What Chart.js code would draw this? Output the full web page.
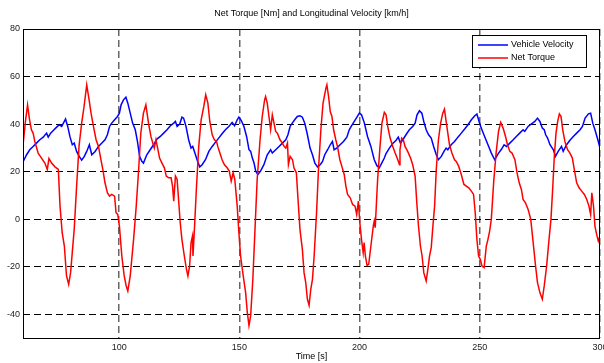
<!DOCTYPE html>
<html>
<head>
<meta charset="utf-8">
<script src="https://cdn.jsdelivr.net/npm/chart.js@4.4.1/dist/chart.umd.min.js"></script>
<style>
  body { margin: 0; background: #fff; }
  canvas { display: block; }
</style>
</head>
<body>
<canvas id="canvas" width="604" height="363"></canvas>
<script>
var chartTitle = 'Net Torque [Nm] and Longitudinal Velocity [km/h]';
var xTitle = 'Time [s]';
var xTickValues = [100, 150, 200, 250, 300];
var yTickValues = [-40, -20, 0, 20, 40, 60, 80];

// Vehicle Velocity [km/h]
var velocityTime = [60.1, 61.5, 62.8, 64.2, 65.6, 67.0, 68.4, 69.8, 70.5, 71.5, 72.6, 74.0, 75.1, 76.1, 76.8, 77.7, 78.6, 79.5, 80.5, 81.3,
    82.3, 83.4, 84.4, 85.5, 86.5, 87.6, 88.6, 90.0, 91.4, 92.8, 94.1, 95.1, 96.0, 96.9, 98.1, 99.3, 100.1, 100.8, 101.8, 102.8,
    103.6, 104.6, 105.6, 106.7, 107.6, 108.5, 109.4, 110.1, 111.5, 112.9, 114.3, 115.7, 117.1, 118.5, 119.9, 121.3, 122.7, 123.4, 124.1, 125.2,
    126.1, 126.8, 127.8, 128.9, 129.9, 130.6, 131.3, 132.4, 133.5, 134.5, 135.9, 137.3, 138.7, 140.0, 141.4, 142.8, 144.2, 145.6, 147.0, 148.0,
    149.1, 149.8, 150.8, 151.9, 153.0, 154.0, 154.7, 155.4, 156.1, 156.8, 157.7, 158.8, 160.2, 161.6, 163.0, 163.7, 165.1, 166.5, 167.9, 169.3,
    170.2, 171.1, 172.0, 173.0, 174.1, 175.2, 176.2, 177.2, 178.3, 179.4, 180.4, 181.4, 182.5, 183.6, 184.6, 185.5, 186.7, 187.8, 188.7, 189.4,
    190.5, 191.9, 193.3, 194.7, 195.7, 196.7, 197.8, 198.9, 199.9, 200.8, 202.0, 203.3, 204.7, 206.1, 207.2, 208.2, 209.2, 210.3, 211.0, 212.4,
    213.8, 215.2, 216.1, 217.0, 218.0, 219.3, 220.7, 222.1, 223.1, 223.9, 224.9, 225.9, 226.7, 227.7, 228.7, 229.8, 230.8, 231.9, 232.8, 234.0,
    235.1, 236.0, 236.7, 238.1, 239.5, 240.9, 242.3, 243.7, 245.1, 246.5, 247.9, 248.8, 249.7, 250.6, 252.0, 253.4, 254.8, 256.2, 257.6, 259.0,
    260.1, 261.1, 262.5, 263.9, 265.2, 266.6, 268.0, 268.7, 270.1, 271.5, 272.9, 274.0, 275.0, 276.0, 276.8, 277.4, 278.2, 279.2, 280.6, 281.5,
    282.6, 284.0, 284.7, 286.1, 287.5, 288.9, 290.3, 291.7, 292.7, 293.8, 295.2, 296.1, 297.0, 297.9, 299.1, 300.0];
var velocityValues = [24.3, 27.1, 29.2, 30.6, 32, 33.4, 34.5, 36.2, 34.5, 36.2, 37.3, 38.7, 39.7, 39, 40.4, 42.1, 39, 34.8, 31.3, 32,
    28.5, 26.4, 24.8, 26.4, 28.5, 31.3, 27.1, 28.5, 30.6, 32, 33.4, 35.5, 39, 40.4, 41.8, 43.2, 44.6, 48.1, 50.2, 51.3,
    48.8, 44.6, 40.4, 37.6, 32.7, 26.4, 24.3, 23.6, 27.1, 29.2, 31.3, 33.7, 34.8, 36.2, 37.6, 39.3, 40.4, 41.1, 39, 40,
    42.9, 42.5, 39, 33.4, 29.9, 30.6, 28.5, 25, 22, 22.9, 25, 28.5, 30.6, 32.3, 34.1, 35.9, 37.6, 39, 40.7, 39.3,
    41.8, 42.9, 41.5, 39, 34.8, 29.2, 28.5, 25.7, 23.6, 20.2, 18.8, 20.2, 22.9, 27.1, 29.2, 27.8, 29.2, 30.6, 32, 33.4,
    35.5, 39, 40.4, 41.8, 43.2, 43.5, 42.9, 40.4, 35.5, 29.9, 27.1, 23.6, 22, 22.9, 24.3, 27.1, 29.2, 31.3, 32.7, 29.2,
    29.9, 31.3, 32.7, 34.5, 37.6, 39.3, 41.1, 42.9, 44.6, 43.9, 40.4, 34.8, 30.6, 25, 22.5, 21.6, 23.6, 25.7, 27.6, 29.9,
    31.8, 33.2, 34.5, 32, 33.4, 35.5, 37.6, 39, 40.4, 43.9, 45.6, 44.6, 41.1, 37.6, 35.5, 34.1, 30.6, 27.1, 25, 26.4,
    28.5, 29.9, 29.2, 31.3, 32.7, 34.5, 36.2, 37.9, 39.7, 41.8, 43.5, 44.2, 41.1, 38.3, 34.8, 31.3, 27.8, 25, 27.5, 29.4,
    31.3, 30.6, 32, 33.4, 34.8, 36.2, 37.6, 36.9, 39, 40.1, 41.1, 42.5, 41.1, 38.3, 37.6, 35.5, 34.1, 31.3, 29.2, 26.4,
    28.5, 30.6, 28.5, 31.3, 33.2, 34.8, 36.2, 37.6, 39, 42.5, 44.3, 44.6, 40.4, 37.6, 33.4, 29.9];

// Net Torque [Nm]
var torqueTime = [60.0, 61.0, 61.9, 62.7, 63.5, 64.2, 64.9, 66.3, 67.7, 69.1, 70.1, 70.8, 71.9, 73.3, 74.7, 75.4, 76.3, 77.2, 78.1, 79.0,
    79.8, 80.5, 81.3, 82.3, 83.3, 84.4, 85.4, 86.5, 87.5, 88.3, 89.3, 90.4, 91.4, 92.3, 93.2, 94.1, 95.1, 96.0, 96.9, 98.1,
    98.7, 99.4, 100.1, 101.1, 102.1, 102.9, 103.6, 104.6, 106.0, 107.1, 108.1, 109.0, 110.1, 111.1, 112.2, 113.2, 114.0, 114.6, 115.3, 116.0,
    116.8, 117.8, 118.8, 119.6, 120.6, 121.6, 122.2, 122.7, 123.4, 124.1, 124.7, 125.4, 126.1, 127.1, 128.0, 128.6, 129.3, 129.9, 130.5, 130.7,
    131.3, 132.1, 133.1, 134.1, 135.2, 136.0, 136.9, 137.7, 138.7, 139.6, 140.5, 141.0, 141.9, 142.8, 143.8, 144.9, 145.8, 146.6, 147.4, 148.1,
    149.1, 149.8, 150.5, 151.6, 152.6, 153.3, 154.0, 154.7, 155.6, 156.5, 157.4, 158.6, 159.5, 160.5, 160.9, 161.6, 162.3, 163.0, 163.7, 164.4,
    165.1, 165.8, 166.9, 167.9, 168.6, 169.3, 170.0, 170.4, 171.1, 172.1, 172.7, 173.7, 174.4, 175.2, 176.2, 176.9, 177.6, 178.3, 179.0, 179.7,
    180.4, 181.1, 182.1, 182.9, 183.9, 184.8, 186.0, 186.4, 187.1, 187.8, 188.5, 189.2, 190.1, 190.8, 191.8, 192.6, 193.6, 194.3, 195.0, 196.1,
    197.1, 198.1, 198.8, 199.5, 200.1, 200.8, 201.5, 201.9, 202.4, 203.1, 203.8, 204.7, 205.7, 206.1, 206.5, 207.5, 208.5, 209.3, 210.3, 211.0,
    211.7, 212.7, 213.8, 214.8, 215.9, 216.6, 216.8, 217.5, 218.2, 218.9, 220.0, 221.2, 222.1, 223.1, 223.8, 224.5, 225.3, 226.0, 226.7, 227.7,
    228.4, 229.1, 229.8, 230.5, 231.2, 231.9, 232.8, 233.7, 234.6, 235.3, 236.0, 236.7, 237.4, 238.4, 239.5, 240.2, 241.2, 242.3, 243.4, 244.4,
    245.4, 246.5, 247.4, 248.1, 248.8, 249.5, 250.2, 250.9, 251.8, 252.7, 253.4, 254.1, 254.8, 255.8, 256.8, 257.8, 258.7, 259.7, 260.7, 261.5,
    262.5, 263.4, 264.6, 265.5, 266.4, 267.3, 268.0, 269.0, 270.1, 271.2, 272.2, 273.2, 274.0, 275.0, 276.0, 276.8, 277.8, 278.8, 279.6, 280.3,
    281.0, 281.7, 282.4, 283.1, 283.8, 284.5, 285.4, 286.5, 287.5, 288.5, 289.3, 290.3, 291.3, 292.4, 293.5, 294.5, 295.4, 296.1, 296.6, 297.3,
    297.9, 298.6, 299.3, 300.0];
var torqueValues = [31, 41, 48, 42, 37.6, 36.2, 32.7, 27.8, 25.7, 23.6, 20.9, 25.5, 23.6, 22, 20.9, 5.5, -5.7, -11.3, -23.9, -27.4,
    -22.5, -14, -4.3, 13.9, 30.6, 40.4, 47.4, 56.5, 50.2, 44.6, 39, 33.4, 30.6, 25.7, 20.9, 15.3, 11.1, 9.7, 10.4, 9.7,
    2.7, 2, -2.9, -15.5, -23.9, -28, -30.2, -23.9, -8.5, 5.5, 20.9, 36.2, 44.6, 48.1, 40.4, 34.8, 32, 29.9, 33.4, 29.9,
    25.7, 23.6, 21.6, 18.1, 17.4, 17.4, 13.9, 7.6, 18.1, 16.7, 8.3, -1.5, -8.5, -15.5, -21.1, -23.9, -19.7, -9.9, -7.1, -15.5,
    -4.3, 12.5, 30.6, 41.8, 47.4, 52.3, 48.8, 41.1, 35.5, 33.4, 32.7, 30.6, 27.8, 25, 22.9, 21.6, 20.2, 16, 19.5, 16.7,
    5.5, -5.7, -15.5, -23.9, -30.9, -39.2, -44.8, -40.6, -25.3, -4.3, 16.7, 33.4, 43.2, 50.2, 51.6, 48.8, 43.2, 37.6, 43.9, 40.4,
    36.9, 36.2, 33.4, 32, 30.6, 29.9, 32, 22.9, 26.4, 25, 21.6, 19.5, 8.3, -4.3, -12.7, -22.5, -26.7, -33.7, -36.2, -29.5,
    -25.3, -15.5, 2.7, 20.9, 37.6, 48.8, 55.1, 56.5, 51.6, 45.3, 43.2, 37.6, 33.4, 30.6, 25, 22.3, 18.8, 13.9, 10.4, 9,
    6.2, 5.5, 2, 7.6, -1.5, -8.5, -14.1, -9.9, -15.5, -19.4, -19, -11.3, -2.9, -0.8, -3.6, 16.7, 30.6, 40.4, 44.9, 43.9,
    39, 34.1, 30.6, 27.8, 25, 22.9, 29.2, 34.1, 33.4, 30.6, 28.5, 25.7, 22.9, 18.1, 6.9, -2.9, -11.3, -15.5, -22.5, -26,
    -21.1, -15.5, -12, -2.9, 5.5, 20.9, 33.4, 40.4, 44.6, 46.3, 41.1, 36.2, 31.3, 27.8, 25, 24.3, 22.3, 18.8, 14.6, 13.9,
    13.2, 11.8, 10.4, 2.7, -8.5, -15.5, -16.9, -19.7, -20.4, -11.3, -8.5, -5, 0, 16, 28, 37, 40.7, 38.3, 34.8, 31.3,
    28.5, 27.8, 25, 19.5, 15.3, 12.5, 8.3, 6.9, 4.1, -0.1, -9.9, -19.7, -26.7, -30.9, -33.7, -28.1, -19.7, -8.5, -0.1, 12.5,
    26.4, 36.2, 41.1, 44.3, 43.2, 37.6, 32.7, 29.2, 27.8, 25.7, 20.9, 15.3, 13.2, 11.8, 10.4, 8.3, 5.5, 2, 11.1, 5.5,
    -2.9, -6.4, -9.2, -7.1];

function toPoints(xs, ys) {
    return xs.map(function (x, i) { return { x: x, y: ys[i] }; });
}

var font = { family: '"Liberation Sans", Arial, sans-serif', size: 9 };

// MATLAB style title, box and legend
var matlabBox = {
    id: 'matlabBox',
    afterDraw: function (chart) {
        var ctx = chart.ctx;
        var a = chart.chartArea;
        ctx.save();
        ctx.strokeStyle = '#000';
        ctx.lineWidth = 1;
        ctx.setLineDash([]);
        ctx.strokeRect(a.left + 0.5, a.top + 0.5, a.right - a.left - 1, a.bottom - a.top);

        ctx.fillStyle = '#000';
        ctx.font = '9px "Liberation Sans", Arial, sans-serif';
        ctx.textAlign = 'center';
        ctx.textBaseline = 'middle';
        ctx.fillText(chartTitle, (a.left + a.right) / 2, 14);

        // legend
        var bx = 472, by = 35, bw = 114, bh = 32;
        ctx.fillStyle = '#fff';
        ctx.fillRect(bx, by, bw, bh);
        ctx.strokeRect(bx + 0.5, by + 0.5, bw, bh);
        ctx.textAlign = 'left';
        chart.data.datasets.forEach(function (ds, i) {
            var y = by + 10 + i * 13;
            ctx.strokeStyle = ds.borderColor;
            ctx.lineWidth = 1.5;
            ctx.beginPath();
            ctx.moveTo(bx + 6, y);
            ctx.lineTo(bx + 36, y);
            ctx.stroke();
            ctx.fillStyle = '#000';
            ctx.fillText(ds.label, bx + 39, y);
        });
        ctx.restore();
    }
};

var ctx = document.getElementById('canvas').getContext('2d');
var config = {
    type: 'line',
    data: {
        datasets: [{
            label: 'Vehicle Velocity',
            data: toPoints(velocityTime, velocityValues),
            borderColor: '#0000ff',
            borderWidth: 1.5,
            pointRadius: 0,
            tension: 0,
            order: 1
        }, {
            label: 'Net Torque',
            data: toPoints(torqueTime, torqueValues),
            borderColor: '#ff0000',
            borderWidth: 1.5,
            pointRadius: 0,
            tension: 0,
            order: 0
        }]
    },
    options: {
        responsive: false,
        animation: false,
        layout: { padding: { top: 29, right: 4, left: 0, bottom: 0 } },
        plugins: {
            legend: { display: false },
            title: { display: false },
            tooltip: { enabled: false }
        },
        scales: {
            x: {
                type: 'linear',
                min: 60,
                max: 300,
                afterBuildTicks: function (scale) {
                    scale.ticks = xTickValues.map(function (v) { return { value: v }; });
                },
                afterFit: function (scale) {
                    scale.height = 25;
                    scale.paddingLeft = 0;
                    scale.paddingRight = 0;
                },
                ticks: { color: '#222', font: font, padding: 4, maxRotation: 0, autoSkip: false },
                grid: { color: 'rgba(0,0,0,0.6)', lineWidth: 1.5, drawTicks: false },
                border: { display: false, dash: [7, 4] },
                title: { display: true, text: xTitle, color: '#000', font: font, padding: { top: 0, bottom: 1 } }
            },
            y: {
                min: -50,
                max: 80,
                afterBuildTicks: function (scale) {
                    scale.ticks = yTickValues.map(function (v) { return { value: v }; });
                },
                afterFit: function (scale) {
                    scale.width = 23;
                },
                ticks: { color: '#222', font: font, padding: 3 },
                grid: { color: '#000', lineWidth: 1, drawTicks: false },
                border: { display: false, dash: [7, 4] }
            }
        }
    },
    plugins: [matlabBox]
};

var chart = new Chart(ctx, config);
</script>
</body>
</html>
